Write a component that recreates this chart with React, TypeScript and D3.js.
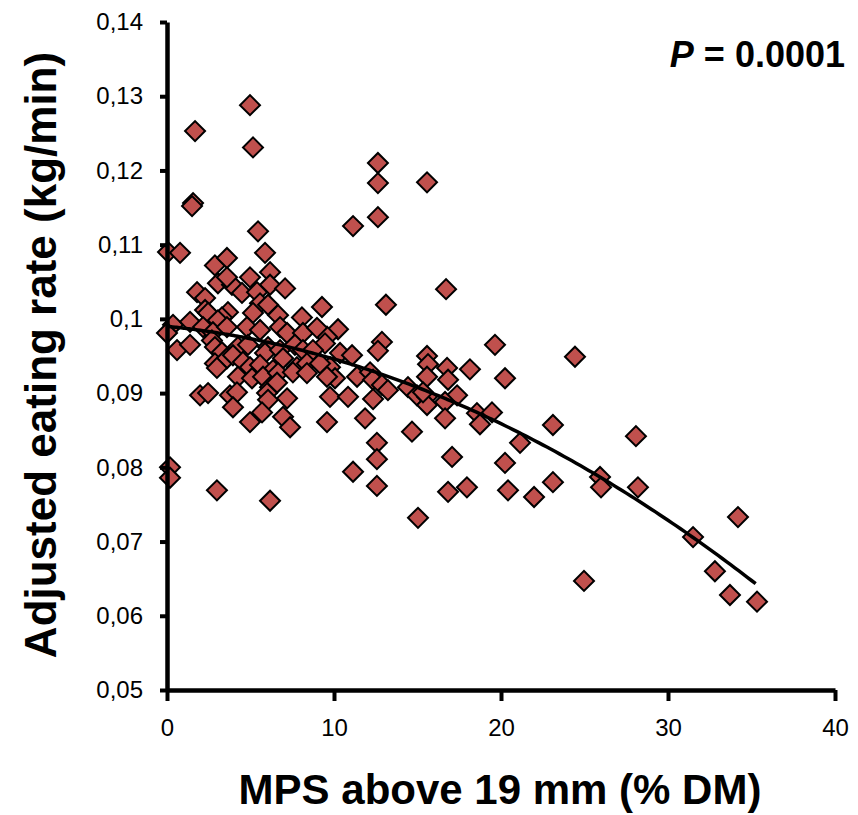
import React, { useEffect, useRef } from 'react';
import * as d3 from 'd3';

// MPS above 19 mm (% DM)
const mps = [
  0.06, 0.78, 4.97, 1.68, 5.15, 1.56, 1.5, 5.45, 12.63, 12.63, 15.57, 11.14, 12.63, 13.11, 16.71,
  0.18, 0.18, 2.99, 6.17, 11.14, 12.57, 12.57, 12.57, 15.03, 14.67, 17.07, 16.83, 17.96, 18.14, 19.64,
  20.24, 20.24, 20.42, 21.14, 21.98, 23.11, 23.11, 24.43, 24.97, 25.93, 25.99, 28.08, 28.2, 31.5, 32.81,
  33.71, 34.19, 35.33, 9.28, 8.08, 10.24, 9.58, 9.46, 12.87, 12.63, 10.36, 11.08, 15.57, 15.63, 16.77,
  15.57, 16.83, 9.76, 10.06, 11.38, 12.16, 12.34, 12.87, 13.23, 14.43, 14.97, 15.57, 15.57, 17.37, 16.65,
  18.56, 19.46, 18.74, 9.76, 10.84, 12.34, 16.65, 9.58, 11.86, 15.33,
  2.87, 3.59, 5.87, 6.17, 3.05, 3.89, 3.59, 4.97, 6.17, 7.07, 1.8, 2.28, 4.49, 5.39, 5.57,
  6.05, 2.28, 2.46, 3.65, 3.29, 3.05, 5.15, 6.65, 0.36, 1.38, 0, 2.16, 2.75, 3.59, 4.79,
  5.57, 6.77, 7.19, 8.14, 8.98, 0.6, 1.38, 2.69, 2.87, 3.29, 4.25, 4.85, 6.05, 5.87, 6.77,
  7.66, 8.14, 8.74, 2.87, 3.59, 3.95, 4.55, 4.97, 5.57, 6.35, 6.95, 7.78, 8.38, 9.16, 2.99,
  4.25, 5.09, 5.75, 6.65, 7.54, 8.38, 9.58, 6.17, 6.59, 1.98, 2.46, 3.77, 4.19, 3.95, 5.99,
  6.05, 7.19, 5.69, 4.97, 6.95, 7.37
];

// Adjusted eating rate (kg/min)
const rate = [
  0.109, 0.1089, 0.1288, 0.1253, 0.1231, 0.1156, 0.1152, 0.1118, 0.121, 0.1183, 0.1184, 0.1125, 0.1137, 0.1019, 0.104,
  0.08, 0.0786, 0.0769, 0.0755, 0.0794, 0.0833, 0.0811, 0.0775, 0.0732, 0.0848, 0.0814, 0.0767, 0.0773, 0.0932, 0.0965,
  0.092, 0.0806, 0.0769, 0.0833, 0.076, 0.0857, 0.078, 0.0949, 0.0647, 0.0787, 0.0773, 0.0842, 0.0773, 0.0706, 0.066,
  0.0628, 0.0733, 0.0619, 0.1016, 0.1002, 0.0986, 0.0976, 0.0967, 0.0969, 0.0957, 0.0954, 0.0951, 0.095, 0.0939, 0.0934,
  0.0922, 0.0918, 0.0935, 0.092, 0.0922, 0.0928, 0.0918, 0.0911, 0.0904, 0.0908, 0.0897, 0.0895, 0.0884, 0.0897, 0.0888,
  0.0873, 0.0874, 0.0858, 0.0895, 0.0895, 0.0892, 0.0866, 0.0861, 0.0866, 0.0901,
  0.1072, 0.1082, 0.1089, 0.1063, 0.1048, 0.1046, 0.1056, 0.1056, 0.1046, 0.1041, 0.1036, 0.1028, 0.1035, 0.1036, 0.1021,
  0.1019, 0.1012, 0.1008, 0.1009, 0.1002, 0.0998, 0.1008, 0.1005, 0.0992, 0.0996, 0.0981, 0.0989, 0.0982, 0.0989, 0.0989,
  0.0985, 0.0989, 0.0981, 0.0981, 0.0988, 0.0958, 0.0965, 0.0971, 0.0962, 0.0955, 0.0962, 0.0965, 0.0962, 0.0954, 0.0958,
  0.0965, 0.0958, 0.0958, 0.094, 0.0947, 0.0951, 0.0942, 0.0935, 0.0938, 0.0931, 0.0947, 0.0935, 0.094, 0.094, 0.0934,
  0.0922, 0.092, 0.0922, 0.0927, 0.0928, 0.0927, 0.0922, 0.0908, 0.0914, 0.0897, 0.09, 0.0897, 0.0901, 0.0881, 0.09,
  0.0891, 0.0893, 0.0874, 0.0861, 0.0868, 0.0854
];

// quadratic trend
const trendCoef = [0.099, -0.000226, -0.0000215];
const trendRange = [0, 35.3];

const xTicks = [0, 10, 20, 30, 40];
const yTicks = [0.05, 0.06, 0.07, 0.08, 0.09, 0.1, 0.11, 0.12, 0.13, 0.14];

const width = 858,
  height = 815;

export default function App() {
  const xAxisRef = useRef(null);
  const yAxisRef = useRef(null);

  const x = d3.scaleLinear().domain([0, 40]).range([167, 835]);
  const y = d3.scaleLinear().domain([0.05, 0.14]).range([690, 22]);

  useEffect(() => {
    const xa = d3
      .axisBottom(x)
      .tickValues(xTicks)
      .tickSize(11)
      .tickSizeOuter(0)
      .tickPadding(18)
      .tickFormat(d3.format('d'));
    const ya = d3
      .axisLeft(y)
      .tickValues(yTicks)
      .tickSize(7)
      .tickSizeOuter(0)
      .tickPadding(17)
      .tickFormat(d => String(+(+d).toFixed(2)).replace('.', ','));

    const gx = d3.select(xAxisRef.current);
    gx.selectAll('*').remove();
    gx.call(xa);
    const gy = d3.select(yAxisRef.current);
    gy.selectAll('*').remove();
    gy.call(ya);

    [gx, gy].forEach(g => {
      g.attr('font-size', 24).attr('font-family', '"Liberation Sans", Arial, sans-serif');
      g.select('.domain').attr('stroke', '#000').attr('stroke-width', 4.5);
      g.selectAll('.tick line').attr('stroke', '#000').attr('stroke-width', 4);
      g.selectAll('.tick text').attr('fill', '#000');
    });
  }, []);

  const points = mps.map((v, i) => ({ x: v, y: rate[i] }));
  const diamond = d3.symbol(d3.symbolSquare, 200)();

  const trendPts = d3.range(trendRange[0], trendRange[1] + 0.001, 0.25).map(v => {
    const vv = Math.min(v, trendRange[1]);
    return [vv, trendCoef[0] + trendCoef[1] * vv + trendCoef[2] * vv * vv];
  });
  const line = d3
    .line()
    .x(d => x(d[0]))
    .y(d => y(d[1]))
    .curve(d3.curveMonotoneX);

  return (
    <svg width={width} height={height} style={{ position: 'absolute', left: 0, top: 0, background: '#fff' }}>
      <g className="points">
        {points.map((p, i) => (
          <path
            key={i}
            d={diamond}
            transform={`translate(${x(p.x)},${y(p.y)}) rotate(45)`}
            fill="#C0504D"
            stroke="#000"
            strokeWidth={2}
          />
        ))}
      </g>
      <path d={line(trendPts)} fill="none" stroke="#000" strokeWidth={3.5} />
      <g ref={xAxisRef} transform={`translate(0,${y(0.05)})`} />
      <g ref={yAxisRef} transform={`translate(${x(0)},0)`} />
      <text
        x={500}
        y={804}
        textAnchor="middle"
        style={{ fontFamily: '"Liberation Sans", Arial, sans-serif', fontWeight: 'bold', fontSize: 42 }}
      >
        MPS above 19 mm (% DM)
      </text>
      <text
        transform={`translate(56,355) rotate(-90)`}
        textAnchor="middle"
        style={{ fontFamily: '"Liberation Sans", Arial, sans-serif', fontWeight: 'bold', fontSize: 44 }}
      >
        Adjusted eating rate (kg/min)
      </text>
      <text
        x={845}
        y={67}
        textAnchor="end"
        style={{ fontFamily: '"Liberation Sans", Arial, sans-serif', fontWeight: 'bold', fontSize: 36 }}
      >
        <tspan fontStyle="italic">P</tspan> = 0.0001
      </text>
    </svg>
  );
}
